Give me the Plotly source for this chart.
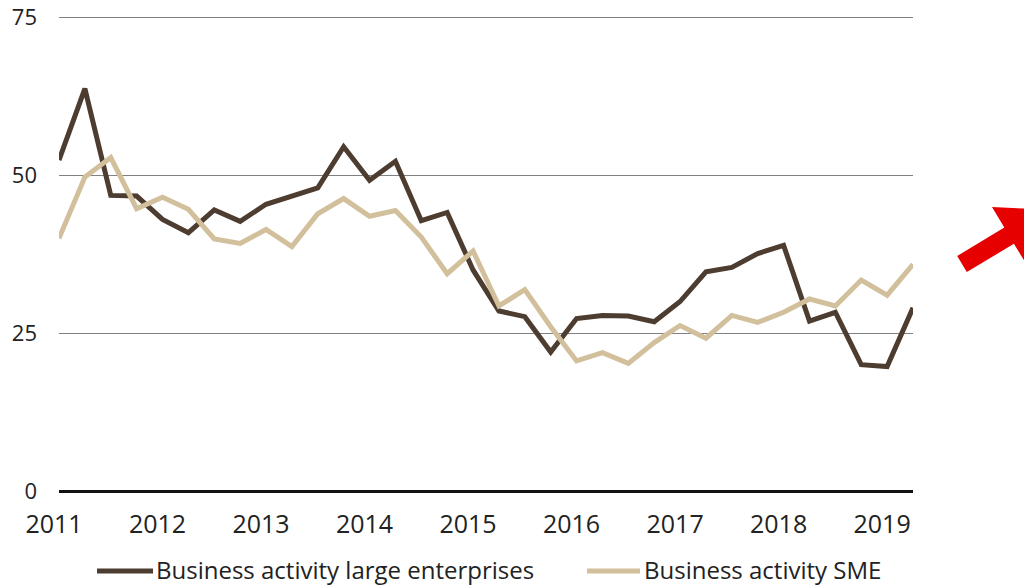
import plotly.graph_objects as go

# ---- data (quarterly) ----
quarters = [f"{y}Q{q}" for y in range(2011, 2020) for q in range(1, 5)][:34]
large_enterprises = [52.4, 63.7, 46.8, 46.7, 43.0, 40.9, 44.5, 42.7, 45.4, 46.6,
                     48.0, 54.5, 49.2, 52.2, 42.8, 44.1, 35.0, 28.5, 27.6, 22.0,
                     27.3, 27.8, 27.7, 26.8, 30.0, 34.7, 35.4, 37.6, 38.9, 26.9,
                     28.3, 20.0, 19.7, 29.0]
sme = [40.0, 49.7, 52.8, 44.7, 46.5, 44.6, 39.9, 39.2, 41.4, 38.7,
       43.9, 46.3, 43.5, 44.4, 40.2, 34.4, 38.0, 29.3, 31.9, 26.0,
       20.6, 21.9, 20.2, 23.5, 26.2, 24.2, 27.8, 26.7, 28.3, 30.4,
       29.3, 33.4, 31.0, 35.9]
year_ticks = list(range(2011, 2020))
y_ticks = [0, 25, 50, 75]
series_names = ["Business activity large enterprises", "Business activity SME"]

# quarter label -> numeric year position
xpos = [int(q[:4]) + (int(q[-1]) - 1) / 4 for q in quarters]

DARK = "#4d3c30"
TAN = "#d2bf9b"
RED = "#e60000"
FONT = "Open Sans"
TXT = "#222222"

W, H = 1024, 586
Y_TOP = 76
ML, MR, MB = 59, 111, 95
PH = round(474 * Y_TOP / 75)          # keep 6.32 px per unit
MT = H - MB - PH
PW = W - ML - MR

fig = go.Figure()
colors = [DARK, TAN]
for name, vals, col in zip(series_names, [large_enterprises, sme], colors):
    fig.add_trace(go.Scatter(x=xpos, y=vals, mode="lines", name=name,
                             line=dict(color=col, width=5), showlegend=False))

def px2paper(px, py):
    return (px - ML) / PW, (H - MB - py) / PH

# custom legend (long line keys like the reference)
legend_items = [((97, 153), 155), ((587, 640), 643)]
for (name, col), ((lx0, lx1), tx) in zip(zip(series_names, colors), legend_items):
    x0, yy = px2paper(lx0, 571)
    x1, _ = px2paper(lx1, 571)
    fig.add_shape(type="line", xref="paper", yref="paper", x0=x0, x1=x1,
                  y0=yy, y1=yy, line=dict(color=col, width=5))
    tx_p, ty_p = px2paper(tx, 569)
    fig.add_annotation(xref="paper", yref="paper", x=tx_p, y=ty_p,
                       xanchor="left", yanchor="middle", showarrow=False,
                       borderpad=0,
                       text=name, font=dict(size=24, family=FONT, color=TXT))

# decorative red arrow (pixel outline converted to paper coords)
arrow_px = [(957.2, 255.9), (1004.3, 227.6), (992.0, 207.0), (1052.0, 210.0),
            (1026.4, 264.2), (1013.9, 243.8), (966.8, 272.1)]
pts = [px2paper(*p) for p in arrow_px]
path = "M " + " L ".join(f"{a:.5f},{b:.5f}" for a, b in pts) + " Z"
fig.add_shape(type="path", path=path, xref="paper", yref="paper",
              fillcolor=RED, line=dict(width=0), layer="above")

fig.update_layout(
    width=W, height=H,
    margin=dict(l=ML, r=MR, t=MT, b=MB, pad=0, autoexpand=False),
    paper_bgcolor="white", plot_bgcolor="white",
    font=dict(family=FONT, color=TXT),
    showlegend=False,
    xaxis=dict(range=[2011, 2019.25], tickvals=year_ticks,
               ticktext=[str(y) for y in year_ticks], automargin=False,
               showgrid=False, zeroline=False, showline=False,
               ticks="", tickfont=dict(size=25, family=FONT, color=TXT),
               ticklabelshift=-5, ticklabelstandoff=16, fixedrange=True),
    yaxis=dict(range=[0, Y_TOP], tickvals=y_ticks, showgrid=True,
               gridcolor="#808080", gridwidth=1, automargin=False,
               zeroline=True, zerolinecolor="#111111", zerolinewidth=2.5,
               showline=False, ticks="",
               tickfont=dict(size=22, family=FONT, color=TXT),
               ticklabelstandoff=21, fixedrange=True),
)

fig.write_html("out.html", config={"displayModeBar": False},
               post_script="document.body.style.margin='0';")
